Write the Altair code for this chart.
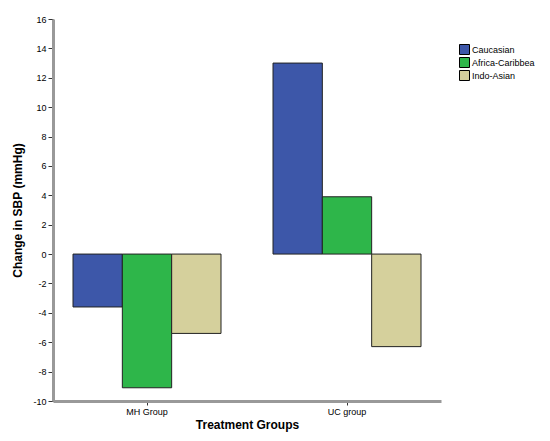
import altair as alt
import pandas as pd

groups = ["MH Group", "UC group"]
ethnicities = ["Caucasian", "Africa-Caribbea", "Indo-Asian"]
mh_values = [-3.6, -9.1, -5.4]
uc_values = [13.0, 3.9, -6.3]
colors = ["#3D57A9", "#2EB64A", "#D5D09C"]
y_ticks = list(range(-10, 17, 2))

rows = []
for g, vals in zip(groups, [mh_values, uc_values]):
    for e, v in zip(ethnicities, vals):
        rows.append({"group": g, "eth": e, "value": v})
df = pd.DataFrame(rows)

FONT = "Liberation Sans"

chart = alt.Chart(df).mark_bar(stroke="#222222", strokeWidth=1).encode(
    x=alt.X("group:N", sort=groups,
            scale=alt.Scale(paddingInner=0.26, paddingOuter=0.1),
            axis=alt.Axis(title="Treatment Groups", labelAngle=0,
                          domainColor="#999999", domainWidth=3,
                          tickColor="#333333", tickSize=4, labelPadding=2,
                          labelFontSize=9, labelColor="#000000",
                          titleFontSize=12, titleFontWeight="bold",
                          titlePadding=3, titleColor="#000000")),
    xOffset=alt.XOffset("eth:N", sort=ethnicities,
                        scale=alt.Scale(paddingInner=0, paddingOuter=0)),
    y=alt.Y("value:Q",
            scale=alt.Scale(domain=[-10, 16], nice=False, zero=False),
            axis=alt.Axis(title="Change in SBP (mmHg)", values=y_ticks,
                          labelExpr="'' + datum.value",
                          grid=False, domainColor="#999999", domainWidth=3,
                          tickColor="#333333", tickSize=5, labelPadding=2,
                          labelFontSize=9, labelColor="#000000",
                          titleFontSize=12, titleFontWeight="bold",
                          titlePadding=8, titleColor="#000000")),
    color=alt.Color("eth:N", sort=ethnicities,
                    scale=alt.Scale(domain=ethnicities, range=colors),
                    legend=alt.Legend(title=None, orient="none",
                                      legendX=406, legendY=25,
                                      symbolType="square", symbolSize=100,
                                      symbolStrokeColor="#000000",
                                      symbolStrokeWidth=1,
                                      labelFontSize=9, labelColor="#000000",
                                      labelLimit=200,
                                      rowPadding=-2, labelOffset=2)),
).properties(
    width=388, height=382,
    autosize=alt.AutoSizeParams(type="none"),
    padding={"left": 45, "top": 11, "right": 101, "bottom": 32},
).configure(
    font=FONT,
).configure_view(
    stroke=None,
)

chart.save("out.html", embed_options={"renderer": "svg", "actions": False})
